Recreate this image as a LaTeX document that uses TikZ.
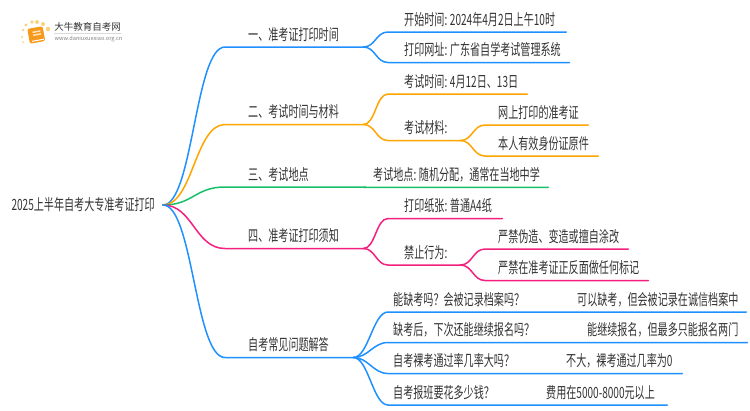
\documentclass[tikz,border=0pt]{standalone}
\usepackage{fontspec}
\usepackage{xcolor}
\setmainfont[FakeStretch=0.65,WordSpace=0.1]{Noto Sans CJK SC}
\newfontfamily\logofont{Noto Sans CJK SC}
\newcommand{\cgap}{\kern-2.5pt\ }
\definecolor{brblue}{HTML}{1E90FF}
\definecolor{brorange}{HTML}{FFA500}
\definecolor{brgreen}{HTML}{19BE6B}
\definecolor{brpink}{HTML}{F5207D}
\definecolor{txtgray}{HTML}{333333}
\definecolor{bookorange}{HTML}{F59A1B}
\definecolor{dotyellow}{HTML}{FBD27A}
\tikzset{
  lab/.style n args={2}{anchor=south west,inner xsep=0pt,inner ysep=3.5pt,align=left,
    text width=#1,text height=11pt,text depth=3pt,text=txtgray,font=\fontsize{15.5}{15.5}\selectfont,
    execute at begin node={\hspace*{#2}}},
  txt/.style={anchor=south west,inner xsep=0pt,inner ysep=3.5pt,text height=11pt,text depth=3pt,
    text=txtgray,font=\fontsize{15.5}{15.5}\selectfont},
  br/.style={draw=#1,line width=1.5pt,line cap=round}
}
\begin{document}
\begin{tikzpicture}[x=1pt,y=-1pt]
    \useasboundingbox (0,0) rectangle (750,410);
    %% logo
    \begin{scope}
      \foreach \px/\py/\pr in {22/37/1.1,23/42/1,23/30/1.3,26/25/1.6,32/22/1.8,37/22/2,43/24/2,48/29/2.2}
        \fill[dotyellow] (\px,\py) circle [radius=\pr];
      \fill[bookorange,rotate around={10:(36,35)},rounded corners=1.5pt] (28.5,27.5) rectangle (44,42.5);
      \fill[white,rotate around={10:(36,35)}] (31,40) rectangle (43,41);
      \fill[white!70!bookorange,rotate around={10:(36,35)}] (33,31) rectangle (41,32.5);
      \fill[white!70!bookorange,rotate around={10:(36,35)}] (33,34) rectangle (41,35.5);
      \node[inner sep=0pt,text=txtgray] (logoname) at (87.5,26.5) {\logofont\fontsize{9.5}{10}\selectfont 大牛教育自考网};
      \node[inner sep=0pt,text=gray] (logourl) at (88.5,38.5) {\logofont\fontsize{5.6}{6}\selectfont www.daniuxuexiao.org.cn};
      \fill[black!15] (54,33) rectangle (121,33.6);
    \end{scope}
    %%
    \node[anchor=east,inner xsep=8pt,inner ysep=2pt,text=txtgray,font=\fontsize{15.5}{15.5}\selectfont] (root) at (163,205) {2025上半年自考大专准考证打印};
    %% first level
    \node[lab={138pt}{23pt}] (one) at (225,47) {一、准考证打印时间};
    \node[lab={138pt}{23pt}] (two) at (225,124.5) {二、考试时间与材料};
    \node[lab={140pt}{23pt}] (three) at (225,187) {三、考试地点};
    \node[lab={138pt}{23pt}] (four) at (225,248.5) {四、准考证打印须知};
    \node[lab={128pt}{23pt}] (five) at (225,357.5) {自考常见问题解答};
    %% second level
    \node[lab={178pt}{16pt}] (start) at (388,32) {开始时间:\cgap 2024年4月2日上午10时};
    \node[lab={181pt}{16pt}] (site) at (388,62.5) {打印网址:\cgap 广东省自学考试管理系统};
    \node[lab={139pt}{16pt}] (date) at (388,94) {考试时间:\cgap 4月12日、13日};
    \node[lab={72pt}{16pt}] (material) at (388,140.5) {考试材料:};
    \node[lab={103pt}{13pt}] (ticket) at (485,125) {网上打印的准考证};
    \node[lab={113pt}{13pt}] (idcard) at (485,156) {本人有效身份证原件};
    \node[lab={183pt}{8pt}] (place) at (365,187.3) {考试地点:\cgap 随机分配，通常在当地中学};
    \node[lab={114pt}{16pt}] (paper) at (388,218.5) {打印纸张:\cgap 普通A4纸};
    \node[lab={72pt}{16pt}] (forbid) at (388,265) {禁止行为:};
    \node[lab={143pt}{13pt}] (forge) at (485,249) {严禁伪造、变造或擅自涂改};
    \node[lab={163pt}{13pt}] (mark) at (485,280.5) {严禁在准考证正反面做任何标记};
    %% questions
    \node[lab={358pt}{5pt}] (qa) at (388,312) {能缺考吗？会被记录档案吗？};
    \node[txt] (aa) at (577,312) {可以缺考，但会被记录在诚信档案中};
    \node[lab={359pt}{5pt}] (qb) at (388,342.5) {缺考后，下次还能继续报名吗？};
    \node[txt] (ab) at (587,342.5) {能继续报名，但最多只能报名两门};
    \node[lab={294pt}{5pt}] (qc) at (388,373.5) {自考裸考通过率几率大吗？};
    \node[txt] (ac) at (566,373.5) {不大，裸考通过几率为0};
    \node[lab={279pt}{5pt}] (qd) at (388,405) {自考报班要花多少钱？};
    \node[txt] (ad) at (546,405) {费用在5000-8000元以上};
    %% branches
    \draw[br=brblue] (root.east) .. controls +(30,0) and +(-30,0) .. (one.south west) -- (one.south east);
    \draw[br=brorange] (root.east) .. controls +(30,0) and +(-30,0) .. (two.south west) -- (two.south east);
    \draw[br=brgreen] (root.east) .. controls +(30,0) and +(-30,0) .. (three.south west) -- (three.south east);
    \draw[br=brpink] (root.east) .. controls +(30,0) and +(-30,0) .. (four.south west) -- (four.south east);
    \draw[br=brblue] (root.east) .. controls +(30,0) and +(-30,0) .. (five.south west) -- (five.south east);
    %%
    \draw[br=brblue] (one.south east) .. controls +(12,0) and +(-12,0) .. (start.south west) -- (start.south east);
    \draw[br=brblue] (one.south east) .. controls +(12,0) and +(-12,0) .. (site.south west) -- (site.south east);
    \draw[br=brorange] (two.south east) .. controls +(12,0) and +(-12,0) .. (date.south west) -- (date.south east);
    \draw[br=brorange] (two.south east) .. controls +(12,0) and +(-12,0) .. (material.south west) -- (material.south east);
    \draw[br=brorange] (material.south east) .. controls +(12,0) and +(-12,0) .. (ticket.south west) -- (ticket.south east);
    \draw[br=brorange] (material.south east) .. controls +(12,0) and +(-12,0) .. (idcard.south west) -- (idcard.south east);
    \draw[br=brgreen] (three.south east) -- (place.south west) -- (place.south east);
    \draw[br=brpink] (four.south east) .. controls +(12,0) and +(-12,0) .. (paper.south west) -- (paper.south east);
    \draw[br=brpink] (four.south east) .. controls +(12,0) and +(-12,0) .. (forbid.south west) -- (forbid.south east);
    \draw[br=brpink] (forbid.south east) .. controls +(12,0) and +(-12,0) .. (forge.south west) -- (forge.south east);
    \draw[br=brpink] (forbid.south east) .. controls +(12,0) and +(-12,0) .. (mark.south west) -- (mark.south east);
    %%
    \draw[br=brblue] (five.south east) .. controls +(15,0) and +(-15,0) .. (qa.south west) -- (qa.south east);
    \draw[br=brblue] (five.south east) .. controls +(15,0) and +(-15,0) .. (qb.south west) -- (qb.south east);
    \draw[br=brblue] (five.south east) .. controls +(15,0) and +(-15,0) .. (qc.south west) -- (qc.south east);
    \draw[br=brblue] (five.south east) .. controls +(15,0) and +(-15,0) .. (qd.south west) -- (qd.south east);
\end{tikzpicture}
\end{document}
